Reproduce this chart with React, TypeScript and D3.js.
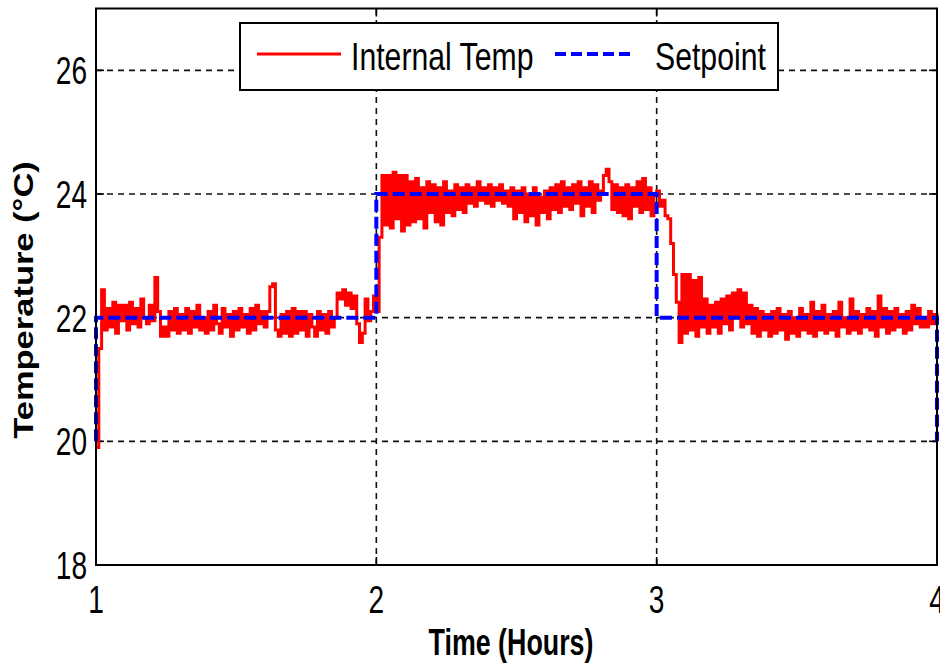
import React from "react";
import * as d3 from "d3";

// sampled every 0.01 h from hour 1.00 to 4.00
const startHour = 1;
const stepHours = 0.01;

const internalTemp = [
  // 1.00 - 1.99
  19.9, 21.5, 22.45, 21.8, 22.15, 21.85, 22.25, 21.75, 22.2, 21.95,
  22.2, 21.8, 22.25, 21.9, 22.15, 21.85, 22.3, 22.0, 21.9, 22.2,
  21.95, 22.65, 22.1, 21.7, 21.85, 21.7, 22.1, 21.8, 22.15, 21.75,
  22.05, 21.8, 22.15, 21.75, 22.1, 21.85, 22.2, 21.8, 22.0, 21.75,
  22.1, 21.8, 22.2, 21.9, 21.75, 22.15, 21.85, 22.05, 21.7, 22.1,
  21.8, 22.15, 21.85, 22.05, 21.75, 22.15, 21.8, 22.2, 21.9, 22.1,
  21.85, 22.1, 22.5, 22.55, 21.8, 21.7, 22.05, 21.75, 22.1, 21.7,
  22.15, 21.75, 22.1, 21.8, 22.1, 21.7, 22.05, 21.85, 21.7, 22.1,
  21.8, 22.05, 21.75, 22.1, 21.85, 22.0, 22.4, 22.3, 22.45, 22.2,
  22.4, 22.15, 22.35, 21.9, 21.6, 21.75, 22.3, 21.95, 22.1, 22.35,
  // 2.00 - 2.99
  22.1, 23.3, 24.3, 23.5, 24.3, 23.45, 24.35, 23.6, 24.3, 23.4,
  24.3, 23.5, 24.2, 23.55, 24.25, 23.6, 24.1, 23.45, 24.2, 23.7,
  24.15, 23.55, 24.1, 23.5, 24.2, 23.7, 24.05, 23.65, 24.15, 23.75,
  24.1, 23.7, 24.15, 23.85, 24.1, 23.8, 24.2, 23.9, 24.1, 23.85,
  24.15, 23.8, 24.1, 23.9, 24.15, 23.85, 24.05, 23.8, 24.1, 23.6,
  24.05, 23.7, 24.1, 23.55, 24.0, 23.65, 24.1, 23.5, 23.95, 23.7,
  24.05, 23.6, 24.1, 23.75, 24.15, 23.7, 24.2, 23.8, 24.1, 23.75,
  24.15, 23.85, 24.2, 23.65, 24.1, 23.8, 24.2, 23.7, 24.15, 23.9,
  24.05, 24.3, 24.4, 24.2, 23.75, 24.15, 23.7, 24.1, 23.65, 24.15,
  23.6, 24.1, 23.8, 24.2, 23.7, 24.25, 23.75, 24.1, 23.65, 24.0,
  // 3.00 - 4.00
  24.05, 23.8, 23.9, 23.65, 23.6, 23.2, 22.7, 22.25, 21.6, 22.7,
  21.75, 22.7, 21.8, 22.6, 21.7, 22.65, 21.85, 22.3, 21.75, 22.2,
  21.85, 22.25, 21.75, 22.3, 21.9, 22.35, 21.8, 22.4, 22.0, 22.45,
  21.85, 22.4, 21.9, 22.2, 21.75, 22.15, 21.7, 22.1, 21.8, 22.05,
  21.7, 22.1, 21.75, 22.15, 21.8, 22.05, 21.65, 22.1, 21.75, 22.0,
  21.7, 22.15, 21.8, 22.05, 21.75, 22.25, 21.7, 22.1, 21.8, 22.2,
  21.75, 22.05, 21.8, 22.1, 21.7, 22.25, 21.85, 22.0, 21.75, 22.3,
  21.8, 22.1, 21.75, 22.05, 21.85, 22.15, 21.8, 22.1, 21.7, 22.35,
  21.85, 22.15, 21.75, 22.1, 21.8, 22.15, 21.85, 22.05, 21.75, 22.1,
  21.8, 22.2, 21.9, 22.15, 21.85, 22.0, 21.85, 22.1, 21.9, 22.05, 21.95,
];

const setpointHours = [1, 1, 2, 2, 3, 3, 4, 4];
const setpointTemp = [20, 22, 22, 24, 24, 22, 22, 20];

const xTicks = [1, 2, 3, 4];
const yTicks = [18, 20, 22, 24, 26];
const xGrid = [2, 3];
const yGrid = [20, 22, 24, 26];

const legendLabels = ["Internal Temp", "Setpoint"];

const W = 940;
const H = 666;
const left = 96;
const right = 937;
const top = 8.5;
const bottom = 565;

const FONT = "'Liberation Sans', Arial, Helvetica, sans-serif";

function SText({ x, y, sx = 0.72, anchor = "start", size = 39, weight = "normal", children }: any) {
  return (
    <text
      transform={`translate(${x},${y}) scale(${sx},1)`}
      textAnchor={anchor}
      fontSize={size}
      fontWeight={weight}
      fontFamily={FONT}
      fill="#000"
    >
      {children}
    </text>
  );
}

export default function App() {
  const x = d3.scaleLinear().domain([1, 4]).range([left, right]);
  const y = d3.scaleLinear().domain([18, 27]).range([bottom, top]);

  const tempPts: [number, number][] = internalTemp.map((v, i) => [startHour + i * stepHours, v]);
  const spPts: [number, number][] = setpointHours.map((h, i) => [h, setpointTemp[i]]);

  const tempLine = d3
    .line<[number, number]>()
    .x((d) => x(d[0]))
    .y((d) => y(d[1]))
    .curve(d3.curveStepAfter);
  const spLine = d3
    .line<[number, number]>()
    .x((d) => x(d[0]))
    .y((d) => y(d[1]));

  const tickLen = 8;

  return (
    <svg
      width={W}
      height={H}
      style={{ position: "absolute", left: 0, top: 0, background: "#fff" }}
    >
      <rect x={0} y={0} width={W} height={H} fill="#fff" />

      {/* grid */}
      <g stroke="#111" strokeWidth={1.6} strokeDasharray="6,5">
        {xGrid.map((t) => (
          <line key={"gx" + t} x1={x(t)} x2={x(t)} y1={y(18)} y2={y(27)} />
        ))}
        {yGrid.map((t) => (
          <line key={"gy" + t} x1={x(1)} x2={x(4)} y1={y(t)} y2={y(t)} />
        ))}
      </g>

      {/* inner ticks */}
      <g stroke="#000" strokeWidth={1.6}>
        {xTicks.map((t) => (
          <g key={"tx" + t}>
            <line x1={x(t)} x2={x(t)} y1={bottom} y2={bottom - tickLen} />
            <line x1={x(t)} x2={x(t)} y1={top} y2={top + tickLen} />
          </g>
        ))}
        {yTicks.map((t) => (
          <g key={"ty" + t}>
            <line x1={left} x2={left + tickLen} y1={y(t)} y2={y(t)} />
            <line x1={right} x2={right - tickLen} y1={y(t)} y2={y(t)} />
          </g>
        ))}
      </g>

      {/* series */}
      <path d={tempLine(tempPts) || ""} fill="none" stroke="#ff0000" strokeWidth={3} />
      <path
        d={spLine(spPts) || ""}
        fill="none"
        stroke="#0000ff"
        strokeWidth={4}
        strokeDasharray="12,5"
      />

      {/* frame */}
      <rect
        x={left}
        y={top}
        width={right - left}
        height={bottom - top}
        fill="none"
        stroke="#000"
        strokeWidth={2}
      />

      {/* tick labels */}
      {yTicks.map((t) => (
        <SText key={"ly" + t} x={87} y={y(t) + 14} anchor="end">
          {t}
        </SText>
      ))}
      {xTicks.map((t) => (
        <SText key={"lx" + t} x={x(t)} y={613} anchor="middle">
          {t}
        </SText>
      ))}

      {/* axis titles */}
      <SText x={511} y={655} anchor="middle" size={37.5} sx={0.715} weight="bold">
        Time (Hours)
      </SText>
      <text
        transform="translate(33,300) rotate(-90) scale(1,0.78)"
        textAnchor="middle"
        fontSize={34.5}
        fontWeight="bold"
        fontFamily={FONT}
        fill="#000"
      >
        Temperature (°C)
      </text>

      {/* legend */}
      <g>
        <rect x={240} y={23} width={538} height={67} fill="#fff" stroke="#000" strokeWidth={2} />
        <line x1={257} x2={341} y1={54} y2={54} stroke="#ff0000" strokeWidth={3} />
        <SText x={351} y={70} size={39.5} sx={0.765}>
          {legendLabels[0]}
        </SText>
        <line
          x1={555}
          x2={635}
          y1={54}
          y2={54}
          stroke="#0000ff"
          strokeWidth={4}
          strokeDasharray="11,5"
        />
        <SText x={655} y={70} size={39.5} sx={0.765}>
          {legendLabels[1]}
        </SText>
      </g>
    </svg>
  );
}
